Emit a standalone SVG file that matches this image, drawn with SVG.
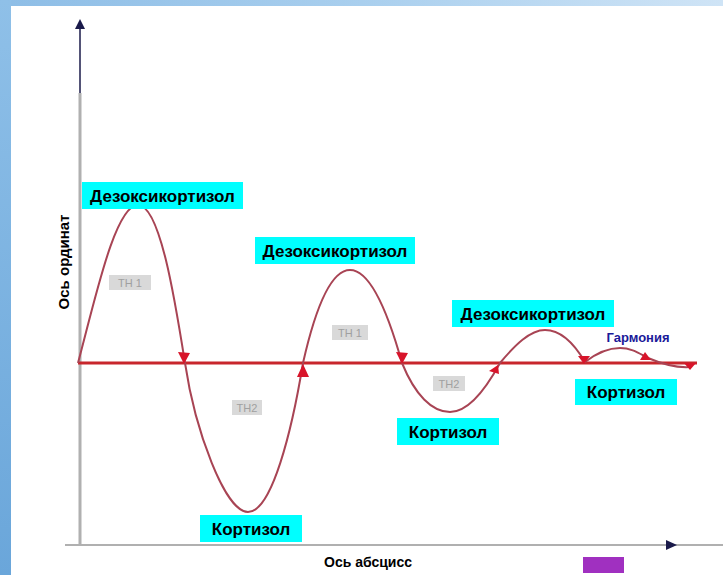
<svg xmlns="http://www.w3.org/2000/svg" width="723" height="575" viewBox="0 0 723 575">
<defs>
<linearGradient id="bgt" x1="0" y1="0" x2="1" y2="0">
<stop offset="0" stop-color="#8dbde6"/><stop offset="0.5" stop-color="#a9cfee"/><stop offset="1" stop-color="#cfe4f6"/>
</linearGradient>
<linearGradient id="bgl" x1="0" y1="0" x2="0" y2="1">
<stop offset="0" stop-color="#8fc0e8"/><stop offset="1" stop-color="#6aa6da"/>
</linearGradient>
<style>
.lbl{fill:#00ffff}
.lt{font-family:"Liberation Sans",Arial,sans-serif;font-weight:bold;font-size:17px;fill:#000}
.th{fill:#d9d9d9}
.tht{font-family:"Liberation Sans",Arial,sans-serif;font-size:11px;fill:#a0a0a0}
.ax{font-family:"Liberation Sans",Arial,sans-serif;font-weight:bold;font-size:14px;fill:#000}
.arr{fill:#d8142a}
</style>
</defs>
<rect width="723" height="575" fill="url(#bgt)"/>
<rect x="0" y="0" width="11" height="575" fill="url(#bgl)"/>
<rect x="11" y="6" width="712" height="569" fill="#ffffff"/>

<g id="axes">
<line x1="65" y1="545" x2="723" y2="545" stroke="#b0b0b0" stroke-width="2"/>
<polygon points="677,545 666,540 666,550" fill="#1a1a4a"/>
<line x1="80" y1="93" x2="80" y2="545" stroke="#b0b0b0" stroke-width="3"/>
<line x1="80" y1="28" x2="80" y2="93" stroke="#1a1a4a" stroke-width="1.5"/>
<polygon points="80,19 75,29 85,29" fill="#1a1a4a"/>
</g>

<g id="connectors">
<line x1="78" y1="363" x2="697" y2="363" stroke="#c8262c" stroke-width="3"/>
<path d="M78,363 C95,300 115,205 138,205 C160,205 175,300 185,363 C195,430 225,512 248,512 C272,512 292,430 303,363 C315,310 330,270 350,270 C372,270 390,320 402,363 C415,395 432,412 450,412 C470,412 488,385 500,363 C515,345 530,330 545,330 C562,330 575,345 585,362 C598,352 608,348 620,348 C632,348 640,354 648,358 C662,364 675,368 690,367" fill="none" stroke="#a84454" stroke-width="2"/>
<polygon class="arr" points="184,364 178,352 190,353"/>
<polygon class="arr" points="303,364 297,377 309,377"/>
<polygon class="arr" points="402,364 396,352 408,353"/>
<polygon class="arr" points="498,365 489,371 499,374"/>
<polygon class="arr" points="584,364 578,356 590,356"/>
<polygon class="arr" points="645,352 640,360 651,360"/>
<polygon class="arr" points="690,370 684,363 696,363"/>
</g>

<g id="th1a"><rect class="th" x="109" y="275" width="42" height="15"/><text class="tht" x="130" y="287" text-anchor="middle">TH 1</text></g>
<g id="th2a"><rect class="th" x="232" y="400" width="30" height="15"/><text class="tht" x="247" y="412" text-anchor="middle">TH2</text></g>
<g id="th1b"><rect class="th" x="332" y="325" width="36" height="15"/><text class="tht" x="350" y="337" text-anchor="middle">TH 1</text></g>
<g id="th2b"><rect class="th" x="433" y="376" width="32" height="15"/><text class="tht" x="449" y="388" text-anchor="middle">TH2</text></g>

<g id="deoxy1"><rect class="lbl" x="82" y="182" width="161" height="27"/><text class="lt" x="162.5" y="201.5" text-anchor="middle">Дезоксикортизол</text></g>
<g id="deoxy2"><rect class="lbl" x="255" y="237" width="160" height="27"/><text class="lt" x="335" y="256.5" text-anchor="middle">Дезоксикортизол</text></g>
<g id="deoxy3"><rect class="lbl" x="452" y="300" width="162" height="27"/><text class="lt" x="533" y="319.5" text-anchor="middle">Дезоксикортизол</text></g>

<g id="cort1"><rect class="lbl" x="200" y="515" width="102" height="27"/><text class="lt" x="251" y="534.5" text-anchor="middle">Кортизол</text></g>
<g id="cort2"><rect class="lbl" x="397" y="418" width="102" height="27"/><text class="lt" x="448" y="437.5" text-anchor="middle">Кортизол</text></g>
<g id="cort3"><rect class="lbl" x="575" y="379" width="102" height="26"/><text class="lt" x="626" y="398" text-anchor="middle">Кортизол</text></g>

<g id="harmony"><text x="638" y="342" text-anchor="middle" font-family="Liberation Sans,Arial,sans-serif" font-weight="bold" font-size="13px" fill="#1a1a99">Гармония</text></g>

<g id="xlabel"><text class="ax" x="368" y="567" text-anchor="middle">Ось абсцисс</text></g>
<g id="ylabel"><text class="ax" transform="translate(69,262) rotate(-90)" text-anchor="middle" style="font-size:15px">Ось ординат</text></g>
<g id="badge"><rect x="583" y="557" width="41" height="16" fill="#a030c0"/></g>
</svg>
